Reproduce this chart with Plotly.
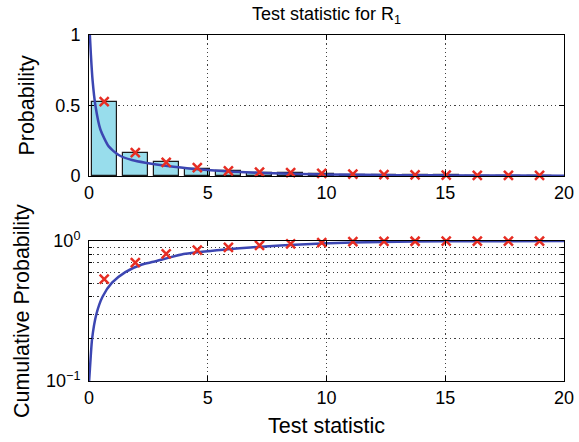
import plotly.graph_objects as go
from plotly.subplots import make_subplots

# ---------------- data ----------------
bin_centers = [0.64, 1.95, 3.25, 4.56, 5.87, 7.18, 8.49, 9.80, 11.11, 12.42, 13.73, 15.04, 16.35, 17.66, 18.97]
bar_prob = [0.523, 0.163, 0.100, 0.053, 0.032, 0.024, 0.018, 0.012, 0.009, 0.007, 0.005, 0.004, 0.003, 0.002, 0.002]
marker_prob = [0.527, 0.165, 0.097, 0.059, 0.036, 0.028, 0.024, 0.019, 0.014, 0.010, 0.008, 0.006, 0.005, 0.005, 0.004]
marker_cum = [0.535, 0.700, 0.810, 0.860, 0.900, 0.930, 0.955, 0.973, 0.989, 0.994, 0.996, 0.997, 0.998, 0.998, 0.999]

pdf_x = [0.02, 0.08, 0.15, 0.27, 0.48, 0.83, 1.25, 1.81, 2.37, 3.56, 4.97, 6.37, 7.77, 10.0, 13.0, 16.0, 20.0]
pdf_y = [1.05, 0.86, 0.68, 0.50, 0.33, 0.21, 0.149, 0.113, 0.094, 0.066, 0.043, 0.028, 0.019, 0.011, 0.006, 0.004, 0.002]

cdf_x = [0.005, 0.04, 0.13, 0.31, 0.57, 0.97, 1.53, 2.23, 2.72, 3.98, 5.39, 6.79, 8.05, 8.89, 9.78, 12.3, 15.0, 20.0]
cdf_y = [0.100, 0.123, 0.200, 0.300, 0.400, 0.504, 0.600, 0.680, 0.710, 0.807, 0.860, 0.900, 0.930, 0.945, 0.960, 0.985, 0.995, 1.000]

x_ticks = [0, 5, 10, 15, 20]
top_y_ticks = [0, 0.5, 1]
top_y_ticktext = ["0", "0.5", "1"]
log_y_ticks = [0.1, 1]
log_y_ticktext = ["10<sup>\u22121</sup>", "10<sup>0</sup>"]
log_minor_ticks = [0.2, 0.3, 0.4, 0.5, 0.6, 0.7, 0.8, 0.9]

title_text = "Test statistic for R<sub>1</sub>"
x_title = "Test statistic"
y1_title = "Probability"
y2_title = "Cumulative Probability"

# ---------------- styles ----------------
FONT = "Liberation Sans, Arial, Helvetica, sans-serif"
BAR_COLOR = "rgb(152,221,236)"
LINE_COLOR = "rgb(60,70,178)"
MARK_COLOR = "rgb(230,45,35)"
GRID_COLOR = "rgba(30,30,30,0.85)"
GRID_DASH = "1.2px,3px"

fig = make_subplots(rows=2, cols=1)

fig.add_trace(go.Bar(x=bin_centers, y=bar_prob, width=1.05,
                     marker=dict(color=BAR_COLOR, line=dict(color="#1a1a1a", width=1.2)),
                     showlegend=False), row=1, col=1)
fig.add_trace(go.Scatter(x=pdf_x, y=pdf_y, mode="lines", line=dict(color=LINE_COLOR, width=2.5, shape="spline", smoothing=0.6),
                         showlegend=False), row=1, col=1)
fig.add_trace(go.Scatter(x=bin_centers, y=marker_prob, mode="markers",
                         marker=dict(symbol="x-thin", size=9, line=dict(color=MARK_COLOR, width=2.5)),
                         cliponaxis=False, showlegend=False), row=1, col=1)

fig.add_trace(go.Scatter(x=cdf_x, y=cdf_y, mode="lines", line=dict(color=LINE_COLOR, width=2.5, shape="spline", smoothing=0.6),
                         showlegend=False), row=2, col=1)
fig.add_trace(go.Scatter(x=bin_centers, y=marker_cum, mode="markers",
                         marker=dict(symbol="x-thin", size=9, line=dict(color=MARK_COLOR, width=2.5)),
                         cliponaxis=False, showlegend=False), row=2, col=1)

axis_common = dict(showline=True, linecolor="black", linewidth=1, mirror="ticks",
                   ticks="inside", ticklen=5, tickcolor="black", zeroline=False, automargin=False,
                   tickfont=dict(family=FONT, size=18, color="black"))

fig.update_xaxes(range=[0, 20], tickvals=x_ticks, showgrid=True, gridcolor=GRID_COLOR,
                 griddash=GRID_DASH, gridwidth=1, **axis_common)
fig.update_yaxes(row=1, col=1, range=[0, 1], tickvals=top_y_ticks, ticktext=top_y_ticktext,
                 showgrid=True, gridcolor=GRID_COLOR, griddash=GRID_DASH, gridwidth=1,
                 ticklabelstandoff=4, **axis_common)
fig.update_yaxes(row=2, col=1, type="log", range=[-1, 0], tickvals=log_y_ticks, ticktext=log_y_ticktext,
                 showgrid=False, ticklabelstandoff=4,
                 minor=dict(tickvals=log_minor_ticks, showgrid=True, gridcolor=GRID_COLOR,
                            griddash=GRID_DASH, gridwidth=1, ticks="inside", ticklen=3, tickcolor="black"),
                 **axis_common)

fig.update_layout(
    width=579, height=442,
    margin=dict(l=89, r=15, t=35, b=61, autoexpand=False),
    plot_bgcolor="white", paper_bgcolor="white",
    bargap=0,
    yaxis=dict(domain=[0.5925, 1.0]),
    yaxis2=dict(domain=[0.0, 0.4046]),
    xaxis=dict(domain=[0, 1]), xaxis2=dict(domain=[0, 1]),
    font=dict(family=FONT, color="black"),
    annotations=[
        dict(text=title_text, xref="paper", yref="paper", x=0.5, y=1.0, yshift=20,
             xanchor="center", yanchor="middle", showarrow=False,
             font=dict(family=FONT, size=18, color="black")),
        dict(text=x_title, xref="paper", yref="paper", x=0.5, y=-0.130,
             xanchor="center", yanchor="middle", showarrow=False,
             font=dict(family=FONT, size=21.5, color="black")),
        dict(text=y1_title, xref="paper", yref="paper", x=-0.1305, y=0.796,
             xanchor="center", yanchor="middle", showarrow=False, textangle=-90,
             font=dict(family=FONT, size=21.5, color="black")),
        dict(text=y2_title, xref="paper", yref="paper", x=-0.141, y=0.2023,
             xanchor="center", yanchor="middle", showarrow=False, textangle=-90,
             font=dict(family=FONT, size=21.5, color="black")),
    ],
)

fig.write_html("out.html")
